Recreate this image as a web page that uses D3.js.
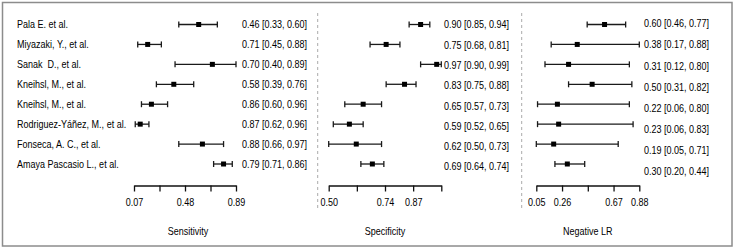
<!DOCTYPE html>
<html>
<head>
<meta charset="utf-8">
<script src="https://cdn.jsdelivr.net/npm/d3@7"></script>
<style>
  body { margin: 0; background: white; }
  text { font-family: "Liberation Sans Narrow", "Arial Narrow", "Liberation Sans", Arial, sans-serif; font-size: 11px; fill: #000; }
</style>
</head>
<body>
<div id="chart"></div>
<script>
const studies = ["Pala E. et al.", "Miyazaki, Y., et al.", "Sanak  D., et al.", "Kneihsl, M., et al.",
  "Kneihsl, M., et al.", "Rodriguez-Yáñez, M., et al.", "Fonseca, A. C., et al.", "Amaya Pascasio L., et al."];

// sensitivity: printed values
const sensEst = [0.46, 0.71, 0.70, 0.58, 0.86, 0.87, 0.88, 0.79];
const sensLo  = [0.33, 0.45, 0.40, 0.39, 0.60, 0.62, 0.66, 0.71];
const sensHi  = [0.60, 0.88, 0.89, 0.76, 0.96, 0.96, 0.97, 0.86];
// sensitivity: where the marks actually sit on the axis
const sensPlotEst = [0.59, 0.18, 0.70, 0.39, 0.21, 0.12, 0.62, 0.79];
const sensPlotLo  = [0.43, 0.10, 0.40, 0.25, 0.13, 0.08, 0.43, 0.71];
const sensPlotHi  = [0.74, 0.29, 0.89, 0.55, 0.34, 0.19, 0.79, 0.86];

const specEst = [0.90, 0.75, 0.97, 0.83, 0.65, 0.59, 0.62, 0.69];
const specLo  = [0.85, 0.68, 0.90, 0.75, 0.57, 0.52, 0.50, 0.64];
const specHi  = [0.94, 0.81, 0.99, 0.88, 0.73, 0.65, 0.73, 0.74];

const nlrEst = [0.60, 0.38, 0.31, 0.50, 0.22, 0.23, 0.19, 0.30];
const nlrLo  = [0.46, 0.17, 0.12, 0.31, 0.06, 0.06, 0.05, 0.20];
const nlrHi  = [0.77, 0.88, 0.80, 0.82, 0.80, 0.83, 0.71, 0.44];

const sensTicks = [0.07, 0.275, 0.48, 0.685, 0.89];
const sensTickLabels = ["0.07", "", "0.48", "", "0.89"];
const specTicks = [0.50, 0.6225, 0.745, 0.8675, 0.99];
const specTickLabels = ["0.50", "", "0.74", "0.87", ""];
const nlrTicks = [0.05, 0.2575, 0.465, 0.6725, 0.88];
const nlrTickLabels = ["0.05", "0.26", "", "0.67", "0.88"];

const width = 734, height = 250;
const fmt = d3.format(".2f");
const squeeze = 0.82; // no narrow font installed, so condense the text by hand

const svg = d3.select("#chart").append("svg")
  .attr("width", width)
  .attr("height", height);

svg.append("rect")
  .attr("x", 2.5).attr("y", 2.5)
  .attr("width", 729.5).attr("height", 243.5)
  .attr("fill", "none")
  .attr("stroke", "#8c8c8c")
  .attr("stroke-width", 1.5);

const idx = d3.range(studies.length);
const rowY = d3.scalePoint().domain(idx).range([24.5, 164]);

function place(sel, xf, yf) {
  sel.attr("transform", (d, i) => `translate(${xf(d, i)},${yf(d, i)}) scale(${squeeze},1)`)
    .attr("dy", "0.35em");
}

// study names
svg.selectAll(".study").data(studies).enter()
  .append("text")
  .attr("class", "study")
  .style("white-space", "pre")
  .text(d => d)
  .call(place, () => 17, (d, i) => rowY(i));

// one panel = axis + error bars + printed values
function panel(cfg) {
  const x = d3.scaleLinear().domain(cfg.domain).range(cfg.range);
  const g = svg.append("g");

  if (cfg.dashX) {
    g.append("line")
      .attr("x1", cfg.dashX).attr("x2", cfg.dashX)
      .attr("y1", 13).attr("y2", 210)
      .attr("stroke", "#aaa")
      .attr("stroke-width", 1)
      .attr("stroke-dasharray", "3,3");
  }

  const bars = g.selectAll(".bar").data(idx).enter().append("g");
  bars.append("line")
    .attr("x1", i => x(cfg.lo[i])).attr("x2", i => x(cfg.hi[i]))
    .attr("y1", i => rowY(i)).attr("y2", i => rowY(i))
    .attr("stroke", "#1a1a1a").attr("stroke-width", 1.3);
  ["lo", "hi"].forEach(k => {
    bars.append("line")
      .attr("x1", i => x(cfg[k][i])).attr("x2", i => x(cfg[k][i]))
      .attr("y1", i => rowY(i) - 3).attr("y2", i => rowY(i) + 3)
      .attr("stroke", "#1a1a1a").attr("stroke-width", 1.3);
  });
  bars.append("rect")
    .attr("x", i => x(cfg.est[i]) - 2.5)
    .attr("y", i => rowY(i) - 2.5)
    .attr("width", 5).attr("height", 5)
    .attr("fill", "#000");

  const textY = d3.scalePoint().domain(idx).range(cfg.textRange);
  g.selectAll(".val").data(idx).enter()
    .append("text")
    .text(i => `${fmt(cfg.tEst[i])} [${fmt(cfg.tLo[i])}, ${fmt(cfg.tHi[i])}]`)
    .call(place, () => cfg.textX, i => textY(i));

  const axis = d3.axisBottom(x)
    .tickValues(cfg.ticks)
    .tickFormat((d, i) => cfg.tickLabels[i])
    .tickSize(6)
    .tickSizeOuter(0);
  const ax = g.append("g")
    .attr("transform", "translate(0,185.5)")
    .call(axis);
  ax.select(".domain").attr("stroke", "#111").attr("stroke-width", 1.3);
  ax.selectAll(".tick line").attr("stroke", "#111").attr("stroke-width", 1.3);
  ax.selectAll(".tick text")
    .attr("font-family", null).attr("font-size", null)
    .attr("y", null).attr("dy", null)
    .attr("transform", `translate(0,20) scale(${squeeze},1)`)
    .style("fill", "#000");

  g.append("text")
    .attr("text-anchor", "middle")
    .text(cfg.title)
    .call(place, () => (cfg.range[0] + cfg.range[1]) / 2 + cfg.titleShift, () => 231);
}

panel({
  domain: [0.07, 0.89], range: [134, 236],
  est: sensPlotEst, lo: sensPlotLo, hi: sensPlotHi,
  tEst: sensEst, tLo: sensLo, tHi: sensHi,
  textX: 242, textRange: [24.5, 164],
  ticks: sensTicks, tickLabels: sensTickLabels,
  title: "Sensitivity", titleShift: 3
});

panel({
  domain: [0.50, 0.99], range: [328.7, 441.3],
  est: specEst, lo: specLo, hi: specHi,
  tEst: specEst, tLo: specLo, tHi: specHi,
  textX: 444, textRange: [24.5, 166.5], dashX: 317.7,
  ticks: specTicks, tickLabels: specTickLabels,
  title: "Specificity", titleShift: 0
});

panel({
  domain: [0.05, 0.88], range: [536.3, 639.3],
  est: nlrEst, lo: nlrLo, hi: nlrHi,
  tEst: nlrEst, tLo: nlrLo, tHi: nlrHi,
  textX: 644, textRange: [23.5, 171], dashX: 521.7,
  ticks: nlrTicks, tickLabels: nlrTickLabels,
  title: "Negative LR", titleShift: 0
});
</script>
</body>
</html>
